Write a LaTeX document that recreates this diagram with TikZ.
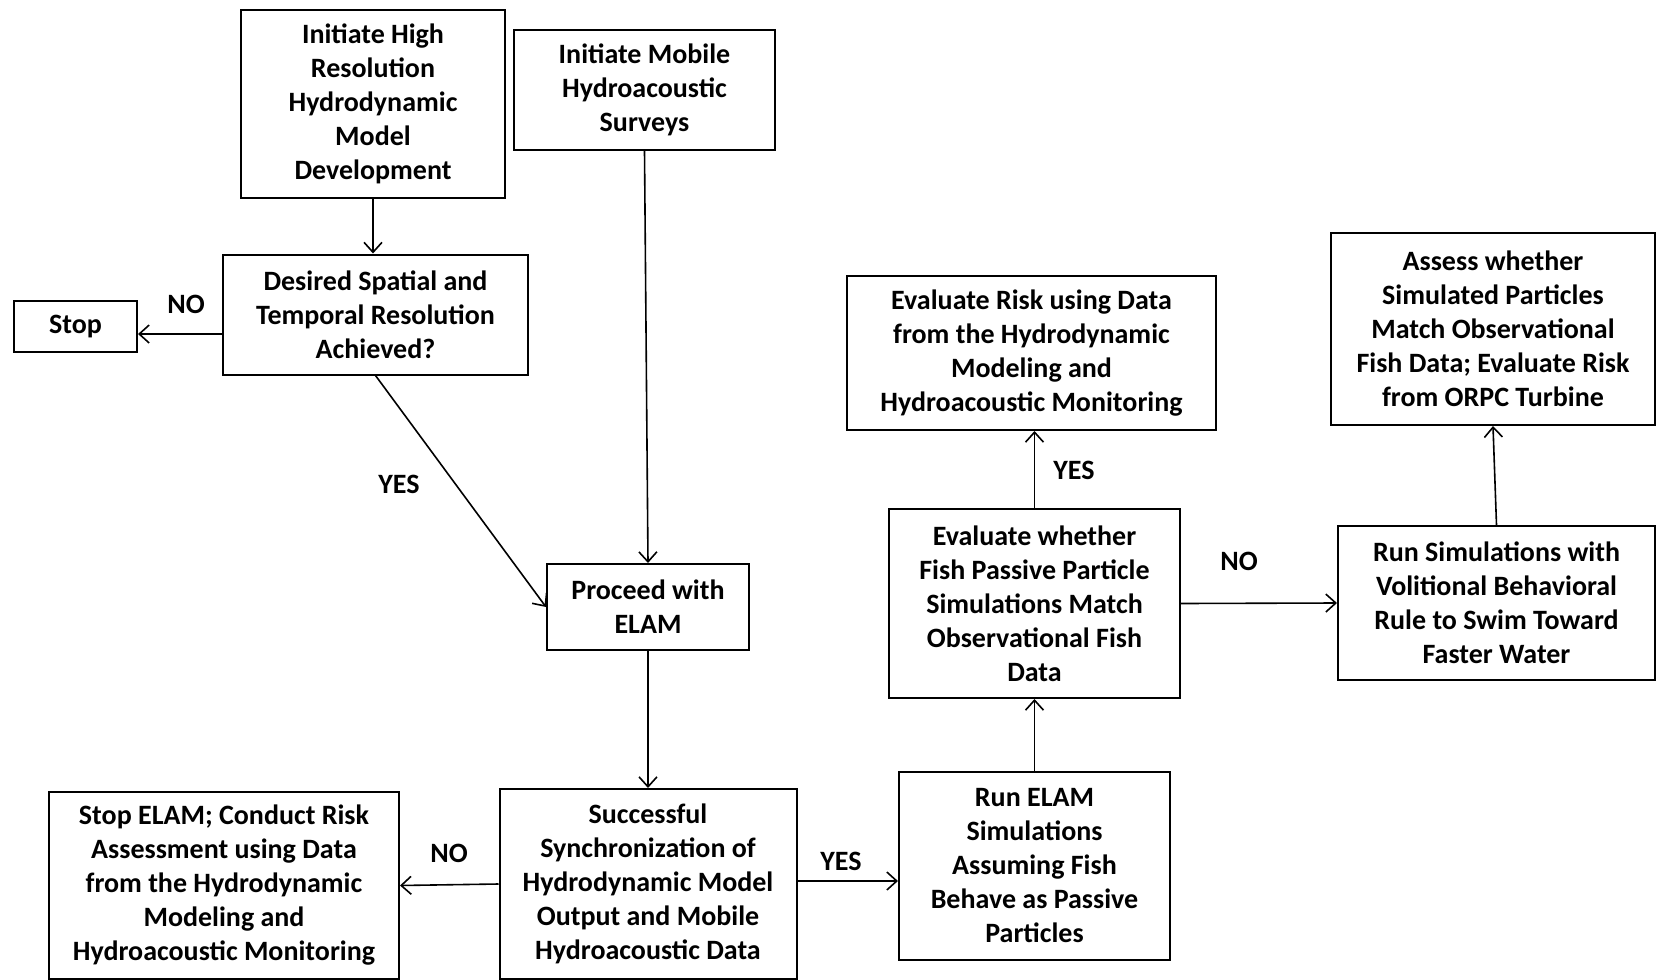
\documentclass[tikz,border=0pt]{standalone}
\usepackage{fontspec}
\setmainfont{Carlito}
\usetikzlibrary{arrows.meta}

\begin{document}
\begin{tikzpicture}[x=0.5pt, y=-0.5pt,
  box/.style={draw, black, line width=1pt, align=center, inner sep=0pt,
    font=\fontsize{14}{17}\selectfont\bfseries},
  lbl/.style={font=\fontsize{14}{17}\selectfont\bfseries},
  arr/.style={-{Straight Barb[length=5pt,width=9pt]}, line width=0.8pt, black}]

\useasboundingbox (0,0) rectangle (1656,980);

\node[box, minimum width=132pt, minimum height=94pt] (hires) at (373,103.5)
  {Initiate High\\Resolution\\Hydrodynamic\\Model\\Development};
\node[box, minimum width=130.5pt, minimum height=60pt] (mobile) at (644.5,90)
  {Initiate Mobile\\Hydroacoustic\\Surveys};
\node[box, minimum width=152.5pt, minimum height=60pt] (desired) at (375.5,314.5)
  {Desired Spatial and\\Temporal Resolution\\Achieved?};
\node[box, minimum width=61.5pt, minimum height=25.5pt] (stop) at (75.5,326.5) {\raisebox{-2pt}{Stop}};
\node[box, minimum width=101pt, minimum height=43pt] (proceed) at (648,607)
  {Proceed with\\ELAM};
\node[box, minimum width=148.5pt, minimum height=95pt] (sync) at (648,884)
  {Successful\\Synchronization of\\Hydrodynamic Model\\Output and Mobile\\Hydroacoustic Data};
\node[box, minimum width=175pt, minimum height=93.5pt] (stopelam) at (224,885.5)
  {Stop ELAM; Conduct Risk\\Assessment using Data\\from the Hydrodynamic\\Modeling and\\Hydroacoustic Monitoring};
\node[box, minimum width=135.5pt, minimum height=94pt] (runelam) at (1034.5,866)
  {Run ELAM\\Simulations\\Assuming Fish\\Behave as Passive\\Particles};
\node[box, minimum width=145.5pt, minimum height=94.5pt] (match) at (1034.5,603.5)
  {Evaluate whether\\Fish Passive Particle\\Simulations Match\\Observational Fish\\Data};
\node[box, minimum width=184.5pt, minimum height=77pt] (risk) at (1031.5,353)
  {Evaluate Risk using Data\\from the Hydrodynamic\\Modeling and\\Hydroacoustic Monitoring};
\node[box, minimum width=158.5pt, minimum height=77pt] (volition) at (1496.5,603)
  {Run Simulations with\\Volitional Behavioral\\Rule to Swim Toward\\Faster Water};
\node[box, minimum width=162pt, minimum height=96pt] (assess) at (1493,329)
  {Assess whether\\Simulated Particles\\Match Observational\\Fish Data; Evaluate Risk\\from ORPC Turbine};

\coordinate (nolevel) at (0,334);

\draw[arr] (hires.south) -- (hires.south |- desired.north);
\draw[arr] (desired.west |- nolevel) -- (stop.east |- nolevel);
\draw[arr] (desired.south) -- (proceed.west);
\draw[arr] (mobile.south) -- (proceed.north);
\draw[arr] (proceed.south) -- (sync.north);
\draw[arr] (sync.west) -- (stopelam.east);
\draw[arr] ([yshift=1.5pt]sync.east) -- ([yshift=1.5pt]sync.east -| runelam.west);
\draw[arr] (runelam.north) -- (match.south);
\draw[arr] (match.north) -- (match.north |- risk.south);
\draw[arr] (match.east) -- (volition.west);
\draw[arr] (volition.north) -- (assess.south);

\node[lbl] (no1) at (186,304) {NO};
\node[lbl] (yes1) at (399,484) {YES};
\node[lbl] (no2) at (449,853) {NO};
\node[lbl] (yes2) at (841,861) {YES};
\node[lbl] (yes3) at (1074,470) {YES};
\node[lbl] (no3) at (1239,561) {NO};

\end{tikzpicture}
\end{document}
